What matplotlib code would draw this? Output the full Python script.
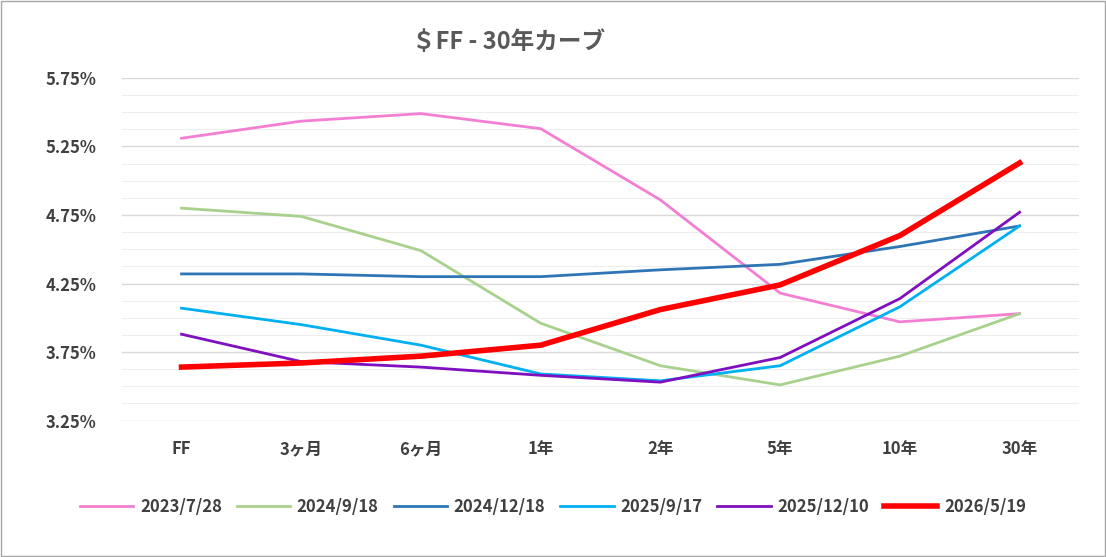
import matplotlib
matplotlib.use("Agg")
import matplotlib.pyplot as plt
from matplotlib.ticker import MultipleLocator, FuncFormatter

plt.rcParams['font.family'] = ['Noto Sans CJK JP', 'DejaVu Sans']

categories = ["FF", "3ヶ月", "6ヶ月", "1年", "2年", "5年", "10年", "30年"]
yticks = [3.25, 3.75, 4.25, 4.75, 5.25, 5.75]
s2023_7_28 = [5.31, 5.435, 5.49, 5.38, 4.86, 4.18, 3.97, 4.03]
s2024_9_18 = [4.80, 4.74, 4.49, 3.96, 3.65, 3.51, 3.72, 4.03]
s2024_12_18 = [4.32, 4.32, 4.30, 4.30, 4.35, 4.39, 4.52, 4.67]
s2025_9_17 = [4.07, 3.95, 3.80, 3.59, 3.54, 3.65, 4.08, 4.67]
s2025_12_10 = [3.88, 3.68, 3.64, 3.58, 3.53, 3.71, 4.14, 4.77]
s2026_5_19 = [3.64, 3.67, 3.72, 3.80, 4.06, 4.24, 4.60, 5.13]

series = [
    ("2023/7/28", s2023_7_28, "#f37fd2", 2),
    ("2024/9/18", s2024_9_18, "#a9d18e", 2),
    ("2024/12/18", s2024_12_18, "#2e75b6", 2),
    ("2025/9/17", s2025_9_17, "#00b0f0", 2),
    ("2025/12/10", s2025_12_10, "#7f0fbf", 2),
    ("2026/5/19", s2026_5_19, "#ff0000", 4),
]

fig = plt.figure(figsize=(11.06, 5.57), dpi=100)
ax = fig.add_axes([0.110, 0.245, 0.866, 0.615])
x = range(len(categories))
for name, vals, c, lw in series:
    ax.plot(x, vals, color=c, lw=lw, label=name)

ax.set_ylim(3.25, 5.75)
ax.set_xlim(-0.5, 7.5)
ax.set_yticks(yticks)
ax.yaxis.set_minor_locator(MultipleLocator(0.125))
ax.yaxis.set_major_formatter(FuncFormatter(lambda v, p: f"{v:.2f}%"))
ax.grid(which='major', axis='y', color='#d9d9d9', lw=1)
ax.grid(which='minor', axis='y', color='#eeeeee', lw=0.8)
ax.set_axisbelow(True)
ax.set_xticks(list(x))
ax.set_xticklabels(categories)
for s in ax.spines.values():
    s.set_visible(False)
ax.tick_params(which='both', length=0)
ax.tick_params(axis='y', labelsize=12, labelcolor='#404040', pad=18)
ax.tick_params(axis='x', labelsize=12, labelcolor='#404040', pad=14)
for t in ax.get_xticklabels() + ax.get_yticklabels():
    t.set_fontweight('bold')

fig.text(0.46, 0.925, "＄FF - 30年カーブ", ha='center', va='center',
         fontsize=17, fontweight='bold', color='#595959')
leg = fig.legend(loc='center', bbox_to_anchor=(0.5, 0.09), ncol=6, frameon=False,
                 prop={'size': 12, 'weight': 'bold'}, handlelength=3.2, columnspacing=0.9,
                 handletextpad=0.4)
for t in leg.get_texts():
    t.set_color('#404040')
fig.patches.append(plt.Rectangle((0.001, 0.002), 0.998, 0.996, transform=fig.transFigure,
                                 fill=False, edgecolor='#a6a6a6', lw=1))
fig.savefig("out.png", dpi=100)
